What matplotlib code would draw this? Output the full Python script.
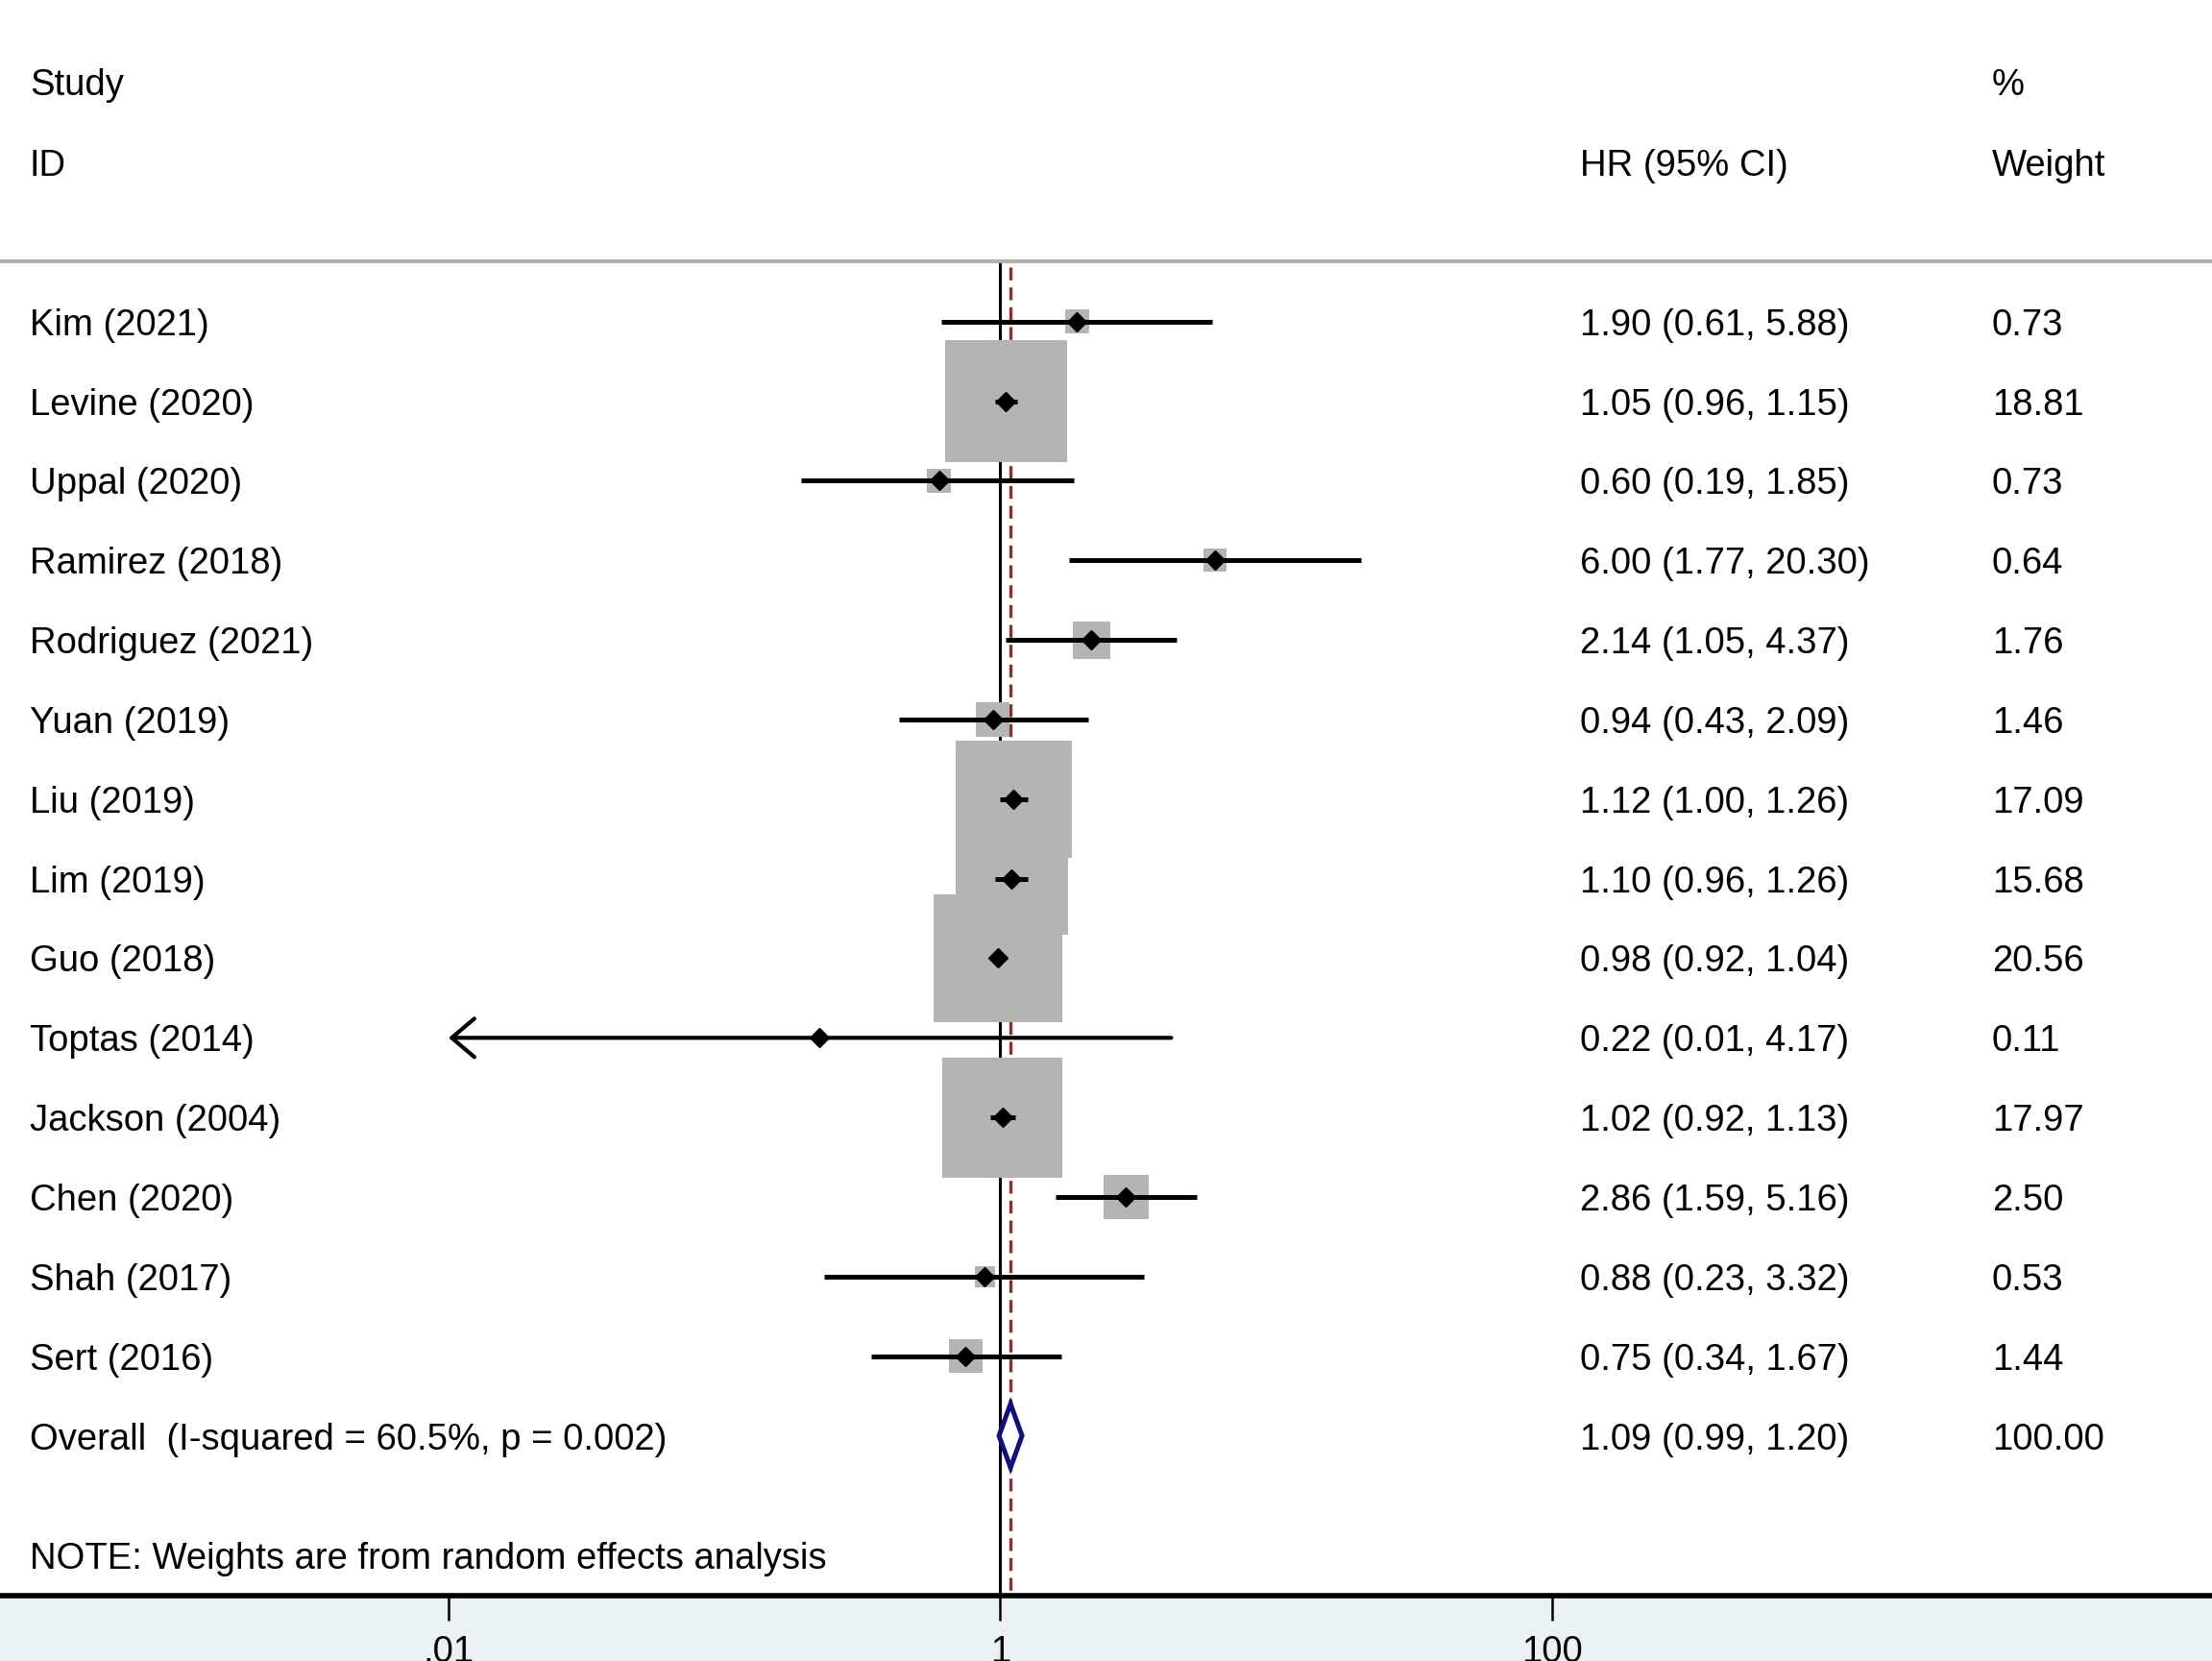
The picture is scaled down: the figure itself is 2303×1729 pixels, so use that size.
import numpy as np
import matplotlib.pyplot as plt
from matplotlib.transforms import blended_transform_factory

plt.rcParams['font.family'] = ['Liberation Sans', 'DejaVu Sans']

# study data (HR, 95% CI, % weight)
studies = ['Kim (2021)', 'Levine (2020)', 'Uppal (2020)', 'Ramirez (2018)', 'Rodriguez (2021)',
           'Yuan (2019)', 'Liu (2019)', 'Lim (2019)', 'Guo (2018)', 'Toptas (2014)',
           'Jackson (2004)', 'Chen (2020)', 'Shah (2017)', 'Sert (2016)']
hr = [1.90, 1.05, 0.60, 6.00, 2.14, 0.94, 1.12, 1.10, 0.98, 0.22, 1.02, 2.86, 0.88, 0.75]
lo = [0.61, 0.96, 0.19, 1.77, 1.05, 0.43, 1.00, 0.96, 0.92, 0.01, 0.92, 1.59, 0.23, 0.34]
hi = [5.88, 1.15, 1.85, 20.30, 4.37, 2.09, 1.26, 1.26, 1.04, 4.17, 1.13, 5.16, 3.32, 1.67]
weights = [0.73, 18.81, 0.73, 0.64, 1.76, 1.46, 17.09, 15.68, 20.56, 0.11, 17.97, 2.50, 0.53, 1.44]

overall_label = 'Overall  (I-squared = 60.5%, p = 0.002)'
overall_hr, overall_lo, overall_hi = 1.09, 0.99, 1.20

tick_vals = [0.01, 1, 100]
tick_labels = ['.01', '1', '100']

fs = 27.5

fig = plt.figure(figsize=(23.03, 17.29), dpi=100)
fig.patch.set_facecolor('#eaf1f3')
ax = fig.add_axes([0, 0.0393, 1, 1 - 0.0393])
ax.set_facecolor('white')

# x axis: log scale, 1 decade = 195.5 of 1568 width, HR=1 at 709
ax.set_xscale('log')
ax.set_xlim(10 ** (-709 / 195.5), 10 ** ((1568 - 709) / 195.5))
ax.set_ylim(16.01, -4.04)

n = len(studies)
rows = np.arange(n)
ov_row = n
header_line = -0.76

# reference lines
ax.plot([1, 1], [header_line, 16.01], color='black', lw=2.2, zorder=1, clip_on=False)
ax.plot([overall_hr, overall_hr], [header_line + 0.08, 16.01], color='#a3242e', lw=2.4,
        dashes=(4, 2.2), zorder=1)
ax.axhline(header_line, color='#b0b0b0', lw=3, zorder=1)

# weight boxes
ax.scatter(hr, rows, s=np.array(weights) * 450, marker='s', color='#b4b4b4',
           linewidths=0, zorder=2)

# confidence intervals
for i in range(n):
    if lo[i] <= 0.01:
        ax.annotate('', xy=(lo[i], rows[i]), xytext=(hi[i], rows[i]),
                    arrowprops=dict(arrowstyle='->,head_length=0.85,head_width=0.72',
                                    lw=3.0, color='black', shrinkA=0, shrinkB=0,
                                    mutation_scale=20),
                    zorder=3)
    else:
        ax.plot([lo[i], hi[i]], [rows[i], rows[i]], color='black', lw=3.6,
                solid_capstyle='butt', zorder=3)

ax.plot(hr, rows, 'D', color='black', markersize=10.5, zorder=4)

# overall diamond
dh = 0.40
ax.fill([overall_lo, overall_hr, overall_hi, overall_hr],
        [ov_row, ov_row - dh, ov_row, ov_row + dh],
        facecolor='white', edgecolor='#10107a', lw=3.6, zorder=4)

# text columns
tr = blended_transform_factory(ax.transAxes, ax.transData)
x_id, x_hr, x_w = 21 / 1568, 1120 / 1568, 1412 / 1568
va = 'center_baseline'

ax.text(x_id, -3.01, 'Study', transform=tr, fontsize=fs, va=va)
ax.text(x_id, -2.0, 'ID', transform=tr, fontsize=fs, va=va)
ax.text(x_hr, -2.0, 'HR (95% CI)', transform=tr, fontsize=fs, va=va)
ax.text(x_w, -3.01, '%', transform=tr, fontsize=fs, va=va)
ax.text(x_w, -2.0, 'Weight', transform=tr, fontsize=fs, va=va)

for i in range(n):
    ax.text(x_id, rows[i], studies[i], transform=tr, fontsize=fs, va=va)
    ax.text(x_hr, rows[i], '%.2f (%.2f, %.2f)' % (hr[i], lo[i], hi[i]),
            transform=tr, fontsize=fs, va=va)
    ax.text(x_w, rows[i], '%.2f' % weights[i], transform=tr, fontsize=fs, va=va)

ax.text(x_id, ov_row, overall_label, transform=tr, fontsize=fs, va=va)
ax.text(x_hr, ov_row, '%.2f (%.2f, %.2f)' % (overall_hr, overall_lo, overall_hi),
        transform=tr, fontsize=fs, va=va)
ax.text(x_w, ov_row, '100.00', transform=tr, fontsize=fs, va=va)

ax.text(x_id, 15.5, 'NOTE: Weights are from random effects analysis', transform=tr,
        fontsize=fs, va=va)

# axis styling
for side in ['top', 'left', 'right']:
    ax.spines[side].set_visible(False)
ax.spines['bottom'].set_linewidth(4)
ax.set_yticks([])
ax.set_xticks(tick_vals)
ax.set_xticklabels(tick_labels)
ax.minorticks_off()
ax.tick_params(axis='x', length=18.7, width=1.8, pad=11, labelsize=fs)

fig.savefig('out.png', dpi=100, facecolor=fig.get_facecolor())
